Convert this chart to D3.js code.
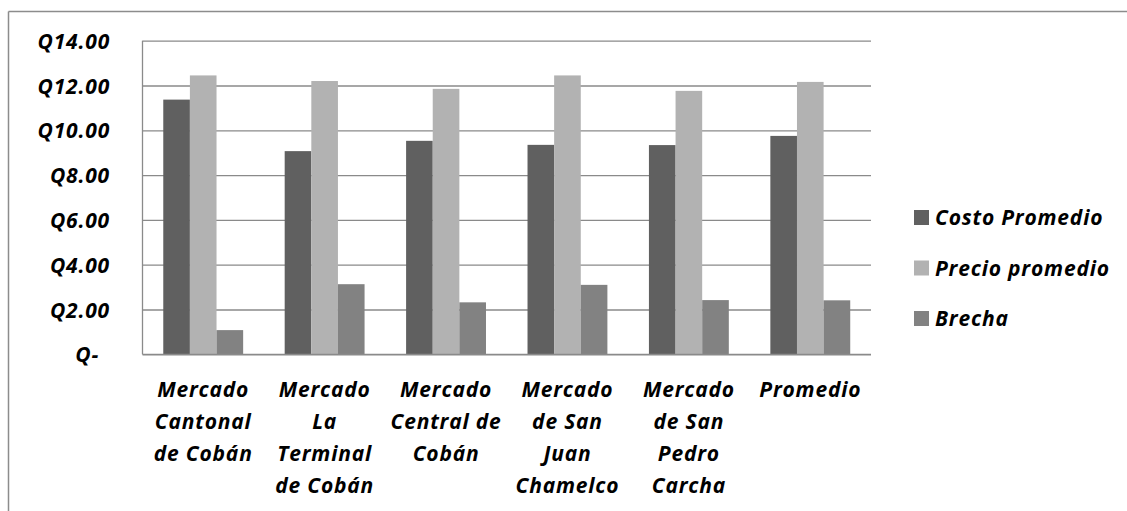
<!DOCTYPE html>
<html>
<head>
<meta charset="utf-8">
<script src="https://cdn.jsdelivr.net/npm/d3@7"></script>
<style>
  html, body { margin: 0; padding: 0; background: #fff; }
  svg { display: block; }
  text { font-family: "Open Sans", Lato, "Liberation Sans", sans-serif; font-weight: bold; font-style: italic; fill: #000; letter-spacing: 0.8px; }
</style>
</head>
<body>
<svg id="chart" width="1127" height="511"></svg>
<script>
// Market names (line breaks mark the wrapped label lines)
const categories = [
  "Mercado\nCantonal\nde Cobán",
  "Mercado\nLa\nTerminal\nde Cobán",
  "Mercado\nCentral de\nCobán",
  "Mercado\nde San\nJuan\nChamelco",
  "Mercado\nde San\nPedro\nCarcha",
  "Promedio"
];
const seriesNames = ["Costo Promedio", "Precio promedio", "Brecha"];
const costo  = [11.37, 9.07, 9.53, 9.35, 9.34, 9.75];
const precio = [12.45, 12.20, 11.85, 12.45, 11.76, 12.16];
const brecha = [1.08, 3.13, 2.32, 3.10, 2.42, 2.41];
const yTicks = [0, 2, 4, 6, 8, 10, 12, 14];
const seriesColors = ["#606060", "#b2b2b2", "#828282"];

const values = [costo, precio, brecha];
const rows = categories.map((c, i) => ({
  cat: c,
  vals: seriesNames.map((s, j) => ({ key: s, value: values[j][i] }))
}));

const svg = d3.select("#chart");
const W = 1127, H = 511;
const FS = 21;

// outer frame: top and left edges
svg.append("line").attr("x1", 8.5).attr("x2", W).attr("y1", 11.5).attr("y2", 11.5)
  .attr("stroke", "#8c8c8c").attr("stroke-width", 1.5);
svg.append("line").attr("x1", 8.5).attr("x2", 8.5).attr("y1", 11.5).attr("y2", H)
  .attr("stroke", "#8c8c8c").attr("stroke-width", 1.5);

const plot = { left: 142.5, right: 871, top: 40.7, bottom: 354.3 };

const y = d3.scaleLinear().domain([0, 14]).range([plot.bottom, plot.top]);
const x0 = d3.scaleBand().domain(categories).range([plot.left, plot.right]).padding(0);
const x1 = d3.scaleBand().domain(seriesNames).range([0, x0.bandwidth()])
  .paddingInner(0).paddingOuter(0.78);
const color = d3.scaleOrdinal().domain(seriesNames).range(seriesColors);

// gridlines
const grid = svg.append("g")
  .attr("transform", `translate(${plot.left},0)`)
  .call(d3.axisLeft(y).tickValues(yTicks).tickSize(-(plot.right - plot.left)).tickFormat(""));
grid.select(".domain").remove();
grid.selectAll(".tick line").attr("stroke", "#8a8a8a").attr("stroke-width", 1.3);

// y tick labels
const yAxis = svg.append("g")
  .attr("transform", `translate(110,0)`)
  .call(d3.axisLeft(y).tickValues(yTicks).tickSize(0).tickPadding(0)
    .tickFormat(d => d === 0 ? "Q-" : "Q" + d3.format(".2f")(d)));
yAxis.select(".domain").remove();
yAxis.selectAll(".tick text")
  .attr("font-size", FS)
  .attr("font-family", null)
  .attr("fill", "#000")
  .attr("dx", d => d === 0 ? -11 : 0)
  .attr("dy", "0.36em");

// bars
const groups = svg.append("g").selectAll("g")
  .data(rows).join("g")
  .attr("transform", d => `translate(${x0(d.cat)},0)`);
groups.selectAll("rect")
  .data(d => d.vals).join("rect")
  .attr("x", d => x1(d.key))
  .attr("width", x1.bandwidth())
  .attr("y", d => y(d.value))
  .attr("height", d => y(0) - y(d.value))
  .attr("fill", d => color(d.key));

// axis lines (left and bottom)
svg.append("line").attr("x1", plot.left).attr("x2", plot.left)
  .attr("y1", plot.top).attr("y2", plot.bottom)
  .attr("stroke", "#8a8a8a").attr("stroke-width", 1.3);
svg.append("line").attr("x1", plot.left).attr("x2", plot.right)
  .attr("y1", plot.bottom).attr("y2", plot.bottom)
  .attr("stroke", "#8a8a8a").attr("stroke-width", 1.3);

// category labels, wrapped
const xAxis = svg.append("g").attr("transform", `translate(0,${plot.bottom})`)
  .call(d3.axisBottom(x0).tickSize(0).tickFormat(""));
xAxis.select(".domain").remove();
xAxis.selectAll(".tick").each(function(d) {
  const t = d3.select(this).append("text")
    .attr("text-anchor", "middle")
    .attr("font-size", FS);
  d.split("\n").forEach((line, i) => {
    t.append("tspan").attr("x", 0).attr("y", 42.5 + i * 32).text(line);
  });
});

// legend
const legend = svg.append("g").attr("transform", "translate(914,0)");
const legendY = d3.scalePoint().domain(seriesNames).range([217.5, 318.5]);
const li = legend.selectAll("g").data(seriesNames).join("g")
  .attr("transform", d => `translate(0,${legendY(d)})`);
li.append("rect").attr("x", 0).attr("y", -7.5).attr("width", 15).attr("height", 15)
  .attr("fill", d => color(d));
li.append("text").attr("x", 21).attr("y", 0).attr("dy", "0.36em")
  .attr("font-size", FS).text(d => d);
</script>
</body>
</html>
